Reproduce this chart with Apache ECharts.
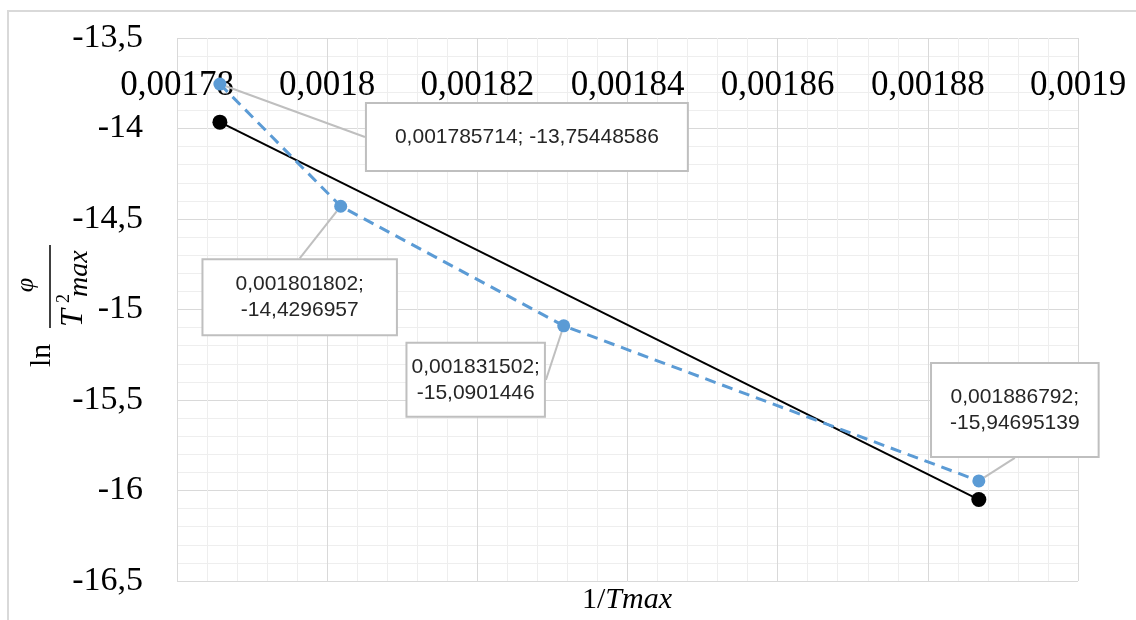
<!DOCTYPE html>
<html>
<head>
<meta charset="utf-8">
<script src="https://cdn.jsdelivr.net/npm/echarts@6/dist/echarts.min.js"></script>
<style>
    html, body { margin: 0; padding: 0; background: #fff; }
    #chart { width: 1136px; height: 620px; }
</style>
</head>
<body>
<div id="chart"></div>
<script>
// measured points
const pointX = [0.001785714, 0.001801802, 0.001831502, 0.001886792];
const pointY = [-13.75448586, -14.4296957, -15.0901446, -15.94695139];

// black trend line at its two ends
const trendX = [0.001785714, 0.001886792];
const trendY = [-13.965, -16.05];

const xTicks = ['0,00178', '0,0018', '0,00182', '0,00184', '0,00186', '0,00188', '0,0019'];
const yTicks = ['-16,5', '-16', '-15,5', '-15', '-14,5', '-14', '-13,5'];

// callout placement (offset from point, padding) - style only
const calloutShift = [[307, 53], [-41, 91], [-88, 54], [36, -71]];
const calloutPad = [[20, 28], [11, 32], [10, 4], [20, 18]];
const calloutBreak = [' ', '\n', '\n', '\n'];

const comma = v => String(v).replace('.', ',');

let blueData = pointX.map((x, i) => ({
    value: [x, pointY[i]],
    label: {
        padding: calloutPad[i],
        formatter: comma(x) + ';' + calloutBreak[i] + comma(pointY[i])
    }
}));

let trendData = trendX.map((x, i) => [x, trendY[i]]);

const chartDom = document.getElementById('chart');
let myChart = echarts.init(chartDom);

let option = {
    backgroundColor: '#fff',
    animation: false,
    grid: {
        left: 177, right: 58, top: 38, bottom: 39,
        containLabel: false,
        outerBoundsMode: 'none'
    },
    xAxis: {
        type: 'value',
        position: 'top',
        min: 0.00178,
        max: 0.0019,
        interval: 0.00002,
        axisLine: {show: false},
        axisTick: {show: false},
        axisLabel: {
            inside: true,
            margin: 30,
            showMinLabel: true,
            showMaxLabel: true,
            color: '#000',
            fontFamily: 'Liberation Serif',
            fontSize: 35,
            formatter: (v, i) => xTicks[i]
        },
        splitLine: {lineStyle: {color: '#d9d9d9', width: 1}},
        minorTick: {show: false, splitNumber: 5},
        minorSplitLine: {show: true, lineStyle: {color: '#eeeeee', width: 1}}
    },
    yAxis: {
        type: 'value',
        min: -16.5,
        max: -13.5,
        interval: 0.5,
        axisLine: {show: false},
        axisTick: {show: false},
        axisLabel: {
            margin: 34,
            color: '#000',
            fontFamily: 'Liberation Serif',
            fontSize: 34,
            formatter: (v, i) => yTicks[i]
        },
        splitLine: {lineStyle: {color: '#d9d9d9', width: 1}},
        minorTick: {show: false, splitNumber: 5},
        minorSplitLine: {show: true, lineStyle: {color: '#eeeeee', width: 1}}
    },
    series: [
        {
            name: 'trend',
            type: 'line',
            data: trendData,
            symbol: 'circle',
            symbolSize: 15,
            itemStyle: {color: '#000'},
            lineStyle: {color: '#000', width: 2},
            z: 2
        },
        {
            name: 'points',
            type: 'line',
            data: blueData,
            symbol: 'circle',
            symbolSize: 13,
            itemStyle: {color: '#5b9bd5'},
            lineStyle: {color: '#5b9bd5', width: 3, type: [11, 7]},
            label: {
                show: true,
                position: 'inside',
                color: '#262626',
                fontFamily: 'Liberation Sans',
                fontSize: 21,
                lineHeight: 26,
                align: 'center',
                backgroundColor: '#fff',
                borderColor: '#bfbfbf',
                borderWidth: 2
            },
            labelLine: {
                show: true,
                lineStyle: {color: '#bfbfbf', width: 2}
            },
            labelLayout: params => ({
                dx: calloutShift[params.dataIndex][0],
                dy: calloutShift[params.dataIndex][1]
            }),
            z: 3
        }
    ],
    graphic: [
        {
            type: 'rect',
            silent: true,
            shape: {x: 8, y: 11, width: 1200, height: 700},
            style: {fill: 'none', stroke: '#d9d9d9', lineWidth: 2},
            z: -10
        },
        {
            // ln(phi / T^2max), turned to read upwards
            type: 'group',
            x: 50,
            y: 367,
            rotation: Math.PI / 2,
            children: [
                {type: 'text', x: 0, y: -8, style: {text: 'ln', font: '30px "Liberation Serif"', fill: '#000', align: 'left', verticalAlign: 'middle'}},
                {type: 'line', shape: {x1: 39, y1: 0, x2: 122, y2: 0}, style: {stroke: '#000', lineWidth: 1.5}},
                {type: 'text', x: 82, y: -24, style: {text: 'φ', font: 'italic 26px "Liberation Serif"', fill: '#000', align: 'center', verticalAlign: 'middle'}},
                {type: 'text', x: 40, y: 24, style: {text: 'T', font: 'italic 32px "Liberation Serif"', fill: '#000', align: 'left', verticalAlign: 'middle'}},
                {type: 'text', x: 64, y: 14, style: {text: '2', font: '18px "Liberation Serif"', fill: '#000', align: 'left', verticalAlign: 'middle'}},
                {type: 'text', x: 70, y: 30, style: {text: 'max', font: 'italic 28px "Liberation Serif"', fill: '#000', align: 'left', verticalAlign: 'middle'}}
            ]
        },
        {
            type: 'text',
            x: 627,
            y: 600,
            style: {
                text: '{a|1/}{b|Tmax}',
                align: 'center',
                verticalAlign: 'middle',
                rich: {
                    a: {font: '30px "Liberation Serif"', fill: '#000'},
                    b: {font: 'italic 30px "Liberation Serif"', fill: '#000'}
                }
            }
        }
    ]
};

myChart.setOption(option);
</script>
</body>
</html>
